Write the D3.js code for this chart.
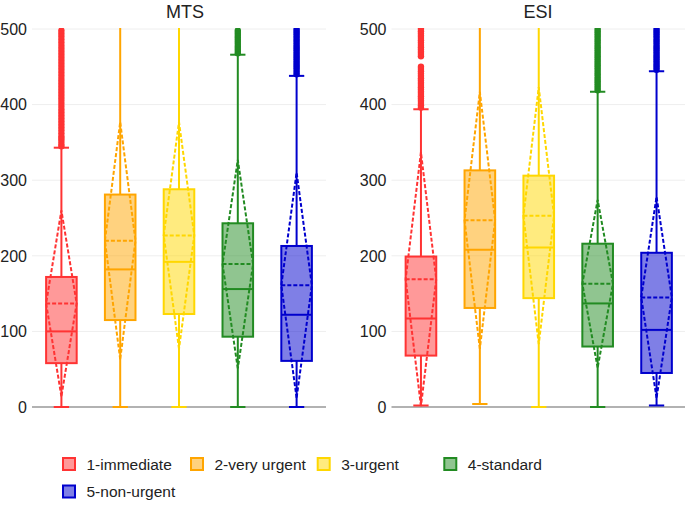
<!DOCTYPE html>
<html><head><meta charset="utf-8">
<script src="https://cdn.jsdelivr.net/npm/d3@7"></script>
<style>body{margin:0;background:#fff}svg{display:block;font-family:"Liberation Sans",Arial,sans-serif}</style>
</head><body><svg id="c" width="685" height="510"></svg>
<script>
const categories = ["1-immediate","2-very urgent","3-urgent","4-standard","5-non-urgent"];
const colors = ["#ff3333","#ffa500","#ffd700","#228b22","#0000cd"];
const panels = ["MTS","ESI"];
const yTicks = [0,100,200,300,400,500];

// MTS statistics per category
const mtsQ1 = [58,115,123,93,61];
const mtsMedian = [100,182,192,156,122];
const mtsQ3 = [172,281,288,243,213];
const mtsLow = [0,0,0,0,0];
const mtsHigh = [343,540,540,466,438];
const mtsMean = [137,220,227,189,161];
const mtsSd = [123,157,150,138,149];
const mtsOut1 = [345,348,352,355,358,362,366,370,374,378,382,386,390,394,398,402,406,410,414,418,422,426,430,434,438,442,446,450,454,458,462,466,470,474,478,482,486,490,494,498];
const mtsOut2 = [];
const mtsOut3 = [];
const mtsOut4 = [468,471,474,477,480,483,486,489,492,495,498];
const mtsOut5 = [440,443,446,449,452,455,458,461,464,467,470,473,476,479,482,485,488,491,494,497,500];

// ESI statistics per category
const esiQ1 = [68,131,144,80,45];
const esiMedian = [117,208,211,137,102];
const esiQ3 = [199,313,306,216,204];
const esiLow = [2,4,0,0,2];
const esiHigh = [394,540,540,417,444];
const esiMean = [169,247,253,163,145];
const esiSd = [168,170,170,111,133];
const esiOut1 = [396,399,402,405,408,411,414,417,420,423,426,429,432,435,438,441,444,447,450,464,467,470,473,476,479,482,485,488,491,494,497,500];
const esiOut2 = [];
const esiOut3 = [];
const esiOut4 = [419,422,425,428,431,434,437,440,443,446,449,452,455,458,461,464,467,470,473,476,479,482,485,488,491,494,497,500];
const esiOut5 = [446,449,452,455,458,461,464,467,470,473,476,479,482,485,488,491,494,497,500];

function buildRows(q1,med,q3,lo,hi,mean,sd,outs){
  return categories.map((c,i)=>({cat:c,color:colors[i],q1:q1[i],median:med[i],q3:q3[i],lo:lo[i],hi:hi[i],mean:mean[i],sd:sd[i],out:outs[i]}));
}
const panelData = {
  MTS: buildRows(mtsQ1,mtsMedian,mtsQ3,mtsLow,mtsHigh,mtsMean,mtsSd,[mtsOut1,mtsOut2,mtsOut3,mtsOut4,mtsOut5]),
  ESI: buildRows(esiQ1,esiMedian,esiQ3,esiLow,esiHigh,esiMean,esiSd,[esiOut1,esiOut2,esiOut3,esiOut4,esiOut5])
};

const svg = d3.select("#c");
const y = d3.scaleLinear().domain([0,500]).range([407,29]);
const ranges = {MTS:[32,326], ESI:[391.5,686]};
const titleX = {MTS:185, ESI:538};
const textColor = "#222";

panels.forEach((p,pi)=>{
  const x = d3.scaleBand().domain(categories).range(ranges[p]).padding(0);
  const bw = x.bandwidth()*0.52;
  const g = svg.append("g");
  const [x0,x1] = ranges[p];
  g.selectAll("line.grid").data(yTicks.filter(t=>t>0)).join("line")
    .attr("x1",x0).attr("x2",x1).attr("y1",d=>y(d)).attr("y2",d=>y(d))
    .attr("stroke","#eeeeee").attr("stroke-width",1);
  g.selectAll("text.tick").data(yTicks).join("text")
    .attr("x",x0-5).attr("y",d=>y(d)).attr("dy","0.36em")
    .attr("text-anchor","end").attr("font-size",16).attr("fill",textColor)
    .text(d=>d);
  g.append("text").attr("x",titleX[p]).attr("y",17.5).attr("text-anchor","middle")
    .attr("font-size",18).attr("fill",textColor).text(p);
  g.append("line").attr("x1",x0).attr("x2",x1).attr("y1",y(0)).attr("y2",y(0))
    .attr("stroke","#999").attr("stroke-width",1.5);

  const clipId = "clip"+pi;
  svg.append("clipPath").attr("id",clipId).append("rect")
    .attr("x",x0-2).attr("y",28).attr("width",x1-x0+4).attr("height",381);
  const pg = g.append("g").attr("clip-path",`url(#${clipId})`);

  panelData[p].forEach(d=>{
    const cx = x(d.cat)+x.bandwidth()/2;
    const b = pg.append("g");
    const L = cx-bw/2, R = cx+bw/2;
    b.append("line").attr("x1",cx).attr("x2",cx).attr("y1",y(d.q3)).attr("y2",y(d.hi))
      .attr("stroke",d.color).attr("stroke-width",2);
    b.append("line").attr("x1",cx).attr("x2",cx).attr("y1",y(d.q1)).attr("y2",y(d.lo))
      .attr("stroke",d.color).attr("stroke-width",2);
    [d.lo,d.hi].forEach(v=>{
      b.append("line").attr("x1",cx-bw/4).attr("x2",cx+bw/4).attr("y1",y(v)).attr("y2",y(v))
        .attr("stroke",d.color).attr("stroke-width",2);
    });
    b.append("rect").attr("x",L).attr("width",bw).attr("y",y(d.q3)).attr("height",y(d.q1)-y(d.q3))
      .attr("fill",d.color).attr("fill-opacity",0.5).attr("stroke",d.color).attr("stroke-width",2);
    b.append("line").attr("x1",L).attr("x2",R).attr("y1",y(d.median)).attr("y2",y(d.median))
      .attr("stroke",d.color).attr("stroke-width",2);
    b.append("line").attr("x1",L).attr("x2",R).attr("y1",y(d.mean)).attr("y2",y(d.mean))
      .attr("stroke",d.color).attr("stroke-width",2).attr("stroke-dasharray","4,2");
    const pts = [[cx,y(d.mean-d.sd)],[L,y(d.mean)],[cx,y(d.mean+d.sd)],[R,y(d.mean)]];
    b.append("path").attr("d","M"+pts.map(q=>q.join(",")).join("L")+"Z")
      .attr("fill","none").attr("stroke",d.color).attr("stroke-width",2).attr("stroke-dasharray","4,2");
    b.selectAll("circle").data(d.out).join("circle")
      .attr("cx",cx).attr("cy",v=>y(v)).attr("r",3.2).attr("fill",d.color);
  });
});

const legendPos = [[63,464],[191,464],[317.7,464],[444.3,464],[63,491.5]];
const lg = svg.append("g");
categories.forEach((c,i)=>{
  const [lx,ly] = legendPos[i];
  lg.append("rect").attr("x",lx).attr("y",ly-6).attr("width",12).attr("height",12)
    .attr("fill",colors[i]).attr("fill-opacity",0.5).attr("stroke",colors[i]).attr("stroke-width",2);
  lg.append("text").attr("x",lx+23.5).attr("y",ly).attr("dy","0.36em")
    .attr("font-size",15.5).attr("fill",textColor).text(c);
});
</script></body></html>
